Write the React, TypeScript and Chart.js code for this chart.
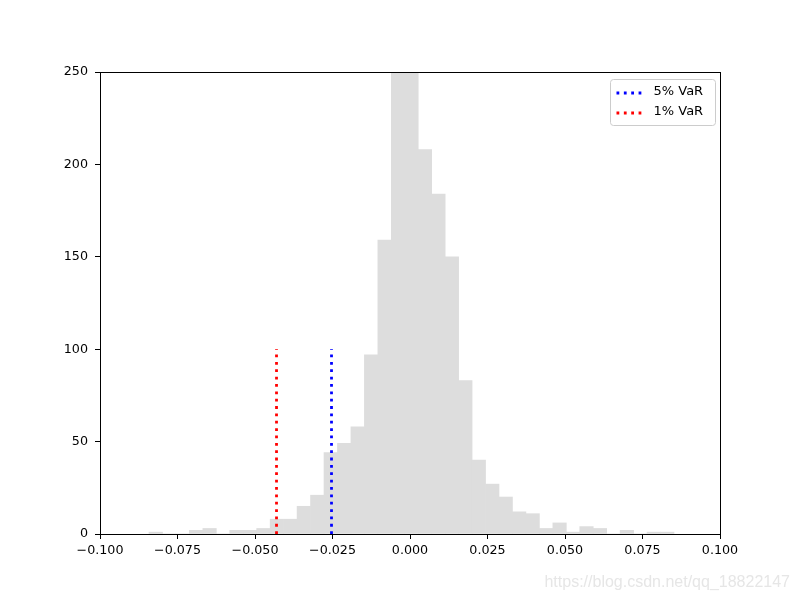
import React, { useEffect, useRef } from 'react';
import { Chart, registerables } from 'chart.js';

Chart.register(...registerables);

// Histogram bins (39 equal bins between binMin and binMax)
const binMin = -0.08419;
const binMax = 0.08516;
const counts = [
  1, 0, 0, 2, 3, 0, 2, 2, 3, 8, 8, 15, 21, 44, 49, 58, 97, 159, 280, 262,
  208, 184, 150, 83, 40, 27, 20, 12, 11, 3, 6, 1, 4, 3, 0, 2, 0, 1, 1,
];

const xTicks = [-0.1, -0.075, -0.05, -0.025, 0, 0.025, 0.05, 0.075, 0.1];
const yTicks = [0, 50, 100, 150, 200, 250];

const var5 = -0.02532;
const var1 = -0.04306;
const varHeight = 100;
const varLabels = ['5% VaR', '1% VaR'];
const varColors = ['#0000ff', '#ff0000'];
const watermark = 'https://blog.csdn.net/qq_18822147';

const FONT = "'DejaVu Sans', sans-serif";
const DASH = [2.78, 4.58];

const fmtTick = (v: number) => {
  const x = Math.abs(v) < 1e-9 ? 0 : v;
  const s = Math.abs(x).toFixed(3);
  return x < 0 ? '\u2212' + s : s;
};

const framePlugin = {
  id: 'frameAndLegend',
  afterDraw(chart: any) {
    const { ctx, chartArea } = chart;
    const { left, right, top, bottom } = chartArea;
    ctx.save();
    // frame
    ctx.strokeStyle = '#000';
    ctx.lineWidth = 1;
    ctx.setLineDash([]);
    ctx.strokeRect(Math.round(left) + 0.5, Math.round(top) + 0.5, Math.round(right - left), Math.round(bottom - top));

    // legend box
    const bw = 105;
    const bh = 46;
    const bx = right - 109.5;
    const by = top + 7.5;
    const r = 3;
    ctx.beginPath();
    ctx.moveTo(bx + r, by);
    ctx.lineTo(bx + bw - r, by);
    ctx.arcTo(bx + bw, by, bx + bw, by + r, r);
    ctx.lineTo(bx + bw, by + bh - r);
    ctx.arcTo(bx + bw, by + bh, bx + bw - r, by + bh, r);
    ctx.lineTo(bx + r, by + bh);
    ctx.arcTo(bx, by + bh, bx, by + bh - r, r);
    ctx.lineTo(bx, by + r);
    ctx.arcTo(bx, by, bx + r, by, r);
    ctx.closePath();
    ctx.fillStyle = 'rgba(255,255,255,0.8)';
    ctx.fill();
    ctx.strokeStyle = '#cccccc';
    ctx.lineWidth = 1;
    ctx.stroke();

    varLabels.forEach((lab, i) => {
      const yy = by + 13.5 + i * 20;
      ctx.beginPath();
      ctx.setLineDash(DASH);
      ctx.lineDashOffset = 0;
      ctx.strokeStyle = varColors[i];
      ctx.lineWidth = 2.78;
      ctx.moveTo(bx + 6, yy);
      ctx.lineTo(bx + 31, yy);
      ctx.stroke();
      ctx.setLineDash([]);
      ctx.fillStyle = '#000';
      ctx.font = `13px ${FONT}`;
      ctx.textBaseline = 'middle';
      ctx.textAlign = 'left';
      ctx.fillText(lab, bx + 43, yy - 1);
    });

    // watermark
    ctx.font = "16px 'Liberation Sans', Arial, sans-serif";
    ctx.fillStyle = '#e6e6e6';
    ctx.textAlign = 'right';
    ctx.textBaseline = 'alphabetic';
    ctx.fillText(watermark, 790, 587);
    ctx.restore();
  },
};

export default function App() {
  const canvasRef = useRef<HTMLCanvasElement | null>(null);

  useEffect(() => {
    const canvas = canvasRef.current;
    if (!canvas) return;
    const n = counts.length;
    const w = (binMax - binMin) / n;
    const barData = counts.map((c, i) => ({ x: binMin + w * (i + 0.5), y: c }));

    const chart = new Chart(canvas, {
      type: 'bar',
      data: {
        datasets: [
          {
            type: 'bar',
            order: 5,
            data: barData as any,
            backgroundColor: '#dddddd',
            borderWidth: 0,
            barPercentage: 1,
            categoryPercentage: 1,
          } as any,
          {
            type: 'line',
            order: 1,
            data: [
              { x: var5, y: 0 },
              { x: var5, y: varHeight },
            ],
            borderColor: varColors[0],
            borderWidth: 2.78,
            borderDash: DASH,
            pointRadius: 0,
            fill: false,
          } as any,
          {
            type: 'line',
            order: 0,
            data: [
              { x: var1, y: 0 },
              { x: var1, y: varHeight },
            ],
            borderColor: varColors[1],
            borderWidth: 2.78,
            borderDash: DASH,
            pointRadius: 0,
            fill: false,
          } as any,
        ],
      },
      options: {
        responsive: false,
        animation: false,
        devicePixelRatio: 1,
        layout: { padding: { left: 0, top: 72, right: 80, bottom: 0 } },
        plugins: {
          legend: { display: false },
          tooltip: { enabled: false },
        },
        scales: {
          x: {
            type: 'linear',
            min: -0.1,
            max: 0.1,
            offset: false,
            grid: {
              offset: false,
              drawOnChartArea: false,
              drawTicks: true,
              tickLength: 5,
              color: '#000',
            },
            border: { display: false },
            afterBuildTicks: (axis: any) => {
              axis.ticks = xTicks.map((v) => ({ value: v }));
            },
            afterFit: (axis: any) => {
              axis.height = 66;
            },
            ticks: {
              autoSkip: false,
              maxRotation: 0,
              padding: 4,
              color: '#000',
              font: { family: FONT, size: 12.7 },
              callback: (v: any) => fmtTick(Number(v)),
            },
          } as any,
          y: {
            type: 'linear',
            min: 0,
            max: 250,
            grid: {
              drawOnChartArea: false,
              drawTicks: true,
              tickLength: 5,
              color: '#000',
            },
            border: { display: false },
            afterBuildTicks: (axis: any) => {
              axis.ticks = yTicks.map((v) => ({ value: v }));
            },
            afterFit: (axis: any) => {
              axis.width = 100;
            },
            ticks: {
              padding: 7,
              color: '#000',
              font: { family: FONT, size: 12.7 },
              callback: (v: any) => String(v),
            },
          } as any,
        },
      },
      plugins: [framePlugin],
    });
    return () => chart.destroy();
  }, []);

  return (
    <div style={{ position: 'fixed', left: 0, top: 0, width: 800, height: 600, background: '#fff' }}>
      <canvas ref={canvasRef} width={800} height={600} style={{ display: 'block', width: 800, height: 600 }} />
    </div>
  );
}
